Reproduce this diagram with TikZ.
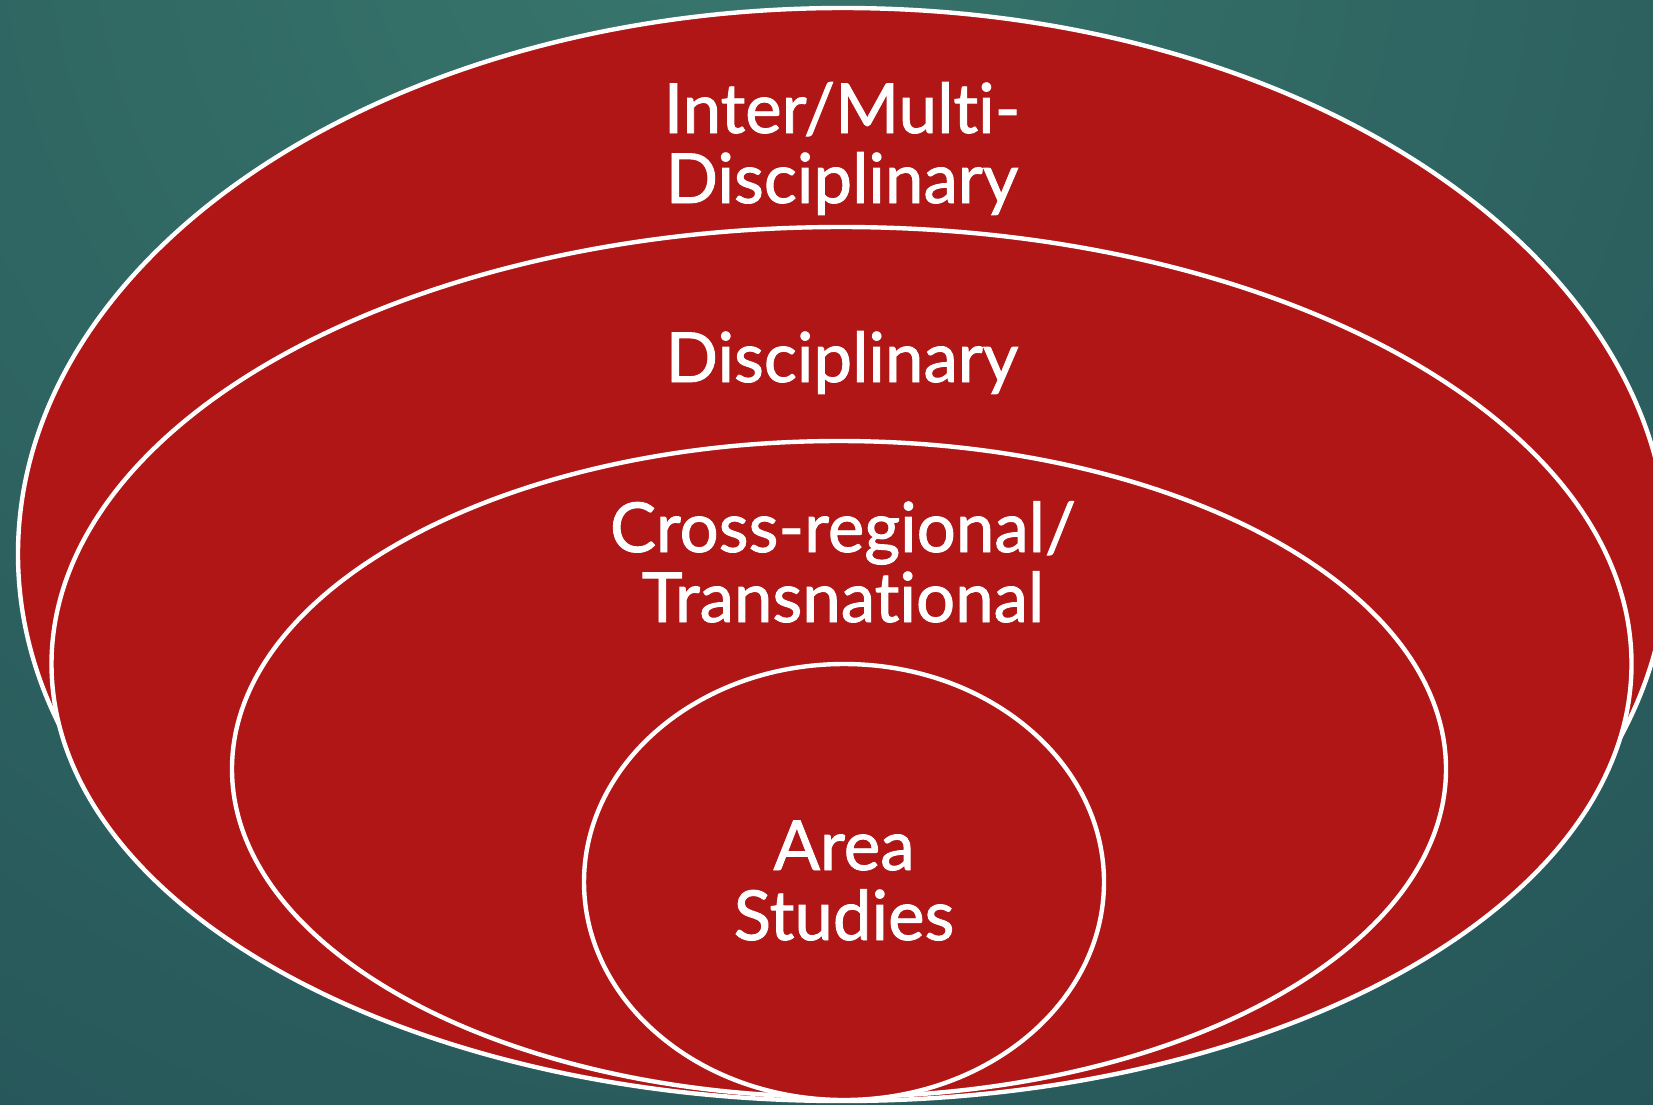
\documentclass[tikz,border=0pt]{standalone}
\usepackage{fontspec}
\setmainfont{Lato}[Ligatures=NoCommon]
\newfontfamily\labelfont{Lato}[Ligatures=NoCommon, FakeBold=1.3]
\definecolor{bginner}{HTML}{38766C}
\definecolor{bgouter}{HTML}{163848}
\definecolor{zonered}{HTML}{AF1615}
\tikzset{
  zone/.style={fill=zonered, draw=white, line width=2.2pt},
  zonelabel/.style={text=white, align=center, anchor=base,
    font=\labelfont\fontsize{34.5}{35}\selectfont, inner sep=0pt}
}
\begin{document}
\begin{tikzpicture}[x=0.5pt, y=-0.5pt]
  \useasboundingbox (0,0) rectangle (1653,1104);
  \begin{scope}
    \clip (0,0) rectangle (1653,1104);
    \shade[inner color=bginner, outer color=bgouter] (700,-100) circle (2800);
    \path[zone] (843,554) ellipse [x radius=825, y radius=546];
    \path[zone] (841.5,664) ellipse [x radius=790, y radius=437];
    \path[zone] (839,769) ellipse [x radius=607, y radius=328];
    \path[zone] (844,882) ellipse [x radius=260, y radius=218];
  \end{scope}
  \node[zonelabel] (inter) at (842,203) {Inter/Multi-\\Disciplinary};
  \node[zonelabel] (disc) at (842,382) {Disciplinary};
  \node[zonelabel] (cross) at (843,622) {Cross-regional/\\Transnational};
  \node[zonelabel] (area) at (844,940) {Area\\Studies};
\end{tikzpicture}
\end{document}
